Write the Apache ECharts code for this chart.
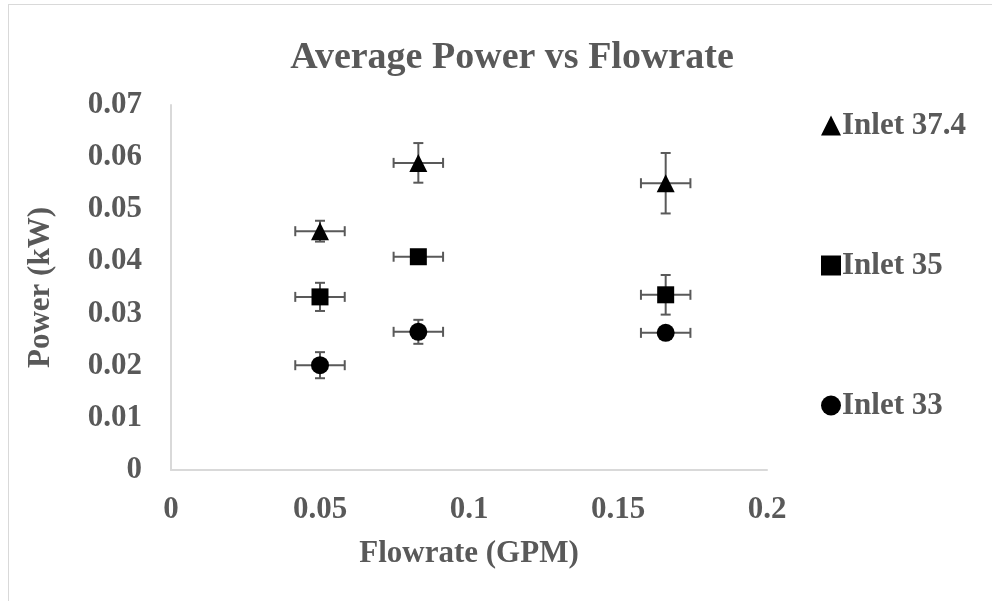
<!DOCTYPE html>
<html>
<head>
<meta charset="utf-8">
<script src="https://cdn.jsdelivr.net/npm/echarts@6/dist/echarts.min.js"></script>
<style>
  html, body { margin: 0; padding: 0; background: #fff; }
  #frame {
    position: absolute; left: 8px; top: 4px; width: 990px; height: 600px;
    border: 1px solid #d9d9d9; box-sizing: border-box;
  }
  #chart { position: absolute; left: 0; top: 0; width: 992px; height: 601px; }
</style>
</head>
<body>
<div id="frame"></div>
<div id="chart"></div>
<script>
// flowrate (GPM) and average power (kW)
const seriesNames = ['Inlet 37.4', 'Inlet 35', 'Inlet 33']
const seriesSymbols = ['triangle', 'rect', 'circle']
const flowrate = [0.05, 0.083, 0.166]
const flowErr = [0.0083, 0.0083, 0.0083]
const power374 = [0.0458, 0.0589, 0.0550]
const power35 = [0.0332, 0.0409, 0.0336]
const power33 = [0.0201, 0.0265, 0.0263]
const err374 = [0.0020, 0.0038, 0.0058]
const err35 = [0.0027, 0.0010, 0.0038]
const err33 = [0.0025, 0.0023, 0.0005]

const powers = [power374, power35, power33]
const errs = [err374, err35, err33]

const textColor = '#595959'
const font = 'Liberation Serif, Times New Roman, serif'

let myChart = echarts.init(document.getElementById('chart'))

// error bars, drawn through the axis scales
function errorSeries(i) {
  return {
    type: 'custom',
    name: seriesNames[i] + ' err',
    silent: true,
    z: 1,
    data: flowrate.map((x, k) => [x, powers[i][k], flowErr[k], errs[i][k]]),
    renderItem(params, api) {
      const x = api.value(0), y = api.value(1)
      const dx = api.value(2), dy = api.value(3)
      const l = api.coord([x - dx, y]), r = api.coord([x + dx, y])
      const t = api.coord([x, y + dy]), b = api.coord([x, y - dy])
      const cap = 5
      const style = { stroke: '#595959', lineWidth: 2 }
      const line = (x1, y1, x2, y2) => ({ type: 'line', shape: { x1, y1, x2, y2 }, style })
      return {
        type: 'group',
        children: [
          line(l[0], l[1], r[0], r[1]),
          line(l[0], l[1] - cap, l[0], l[1] + cap),
          line(r[0], r[1] - cap, r[0], r[1] + cap),
          line(t[0], t[1], b[0], b[1]),
          line(t[0] - cap, t[1], t[0] + cap, t[1]),
          line(b[0] - cap, b[1], b[0] + cap, b[1])
        ]
      }
    }
  }
}

const scatter = seriesNames.map((name, i) => ({
  type: 'scatter',
  name,
  symbol: seriesSymbols[i],
  symbolSize: i === 1 ? 17 : 18,
  z: 3,
  itemStyle: { color: '#000', opacity: 1 },
  data: flowrate.map((x, k) => [x, powers[i][k]])
}))

const labelStyle = { fontFamily: font, fontSize: 31, fontWeight: 'bold', color: textColor }

myChart.setOption({
  animation: false,
  title: {
    text: 'Average Power vs Flowrate',
    left: 507, top: 34, textAlign: 'center',
    textStyle: { fontFamily: font, fontSize: 38, fontWeight: 'bold', color: textColor }
  },
  legend: {
    data: seriesNames.map((n, i) => ({ name: n, icon: seriesSymbols[i] })),
    orient: 'vertical',
    left: 816, top: 105,
    itemWidth: 20, itemHeight: 20, itemGap: 109,
    textStyle: { ...labelStyle, padding: [0, 0, 0, -4] }
  },
  grid: { left: 171, right: 225, top: 105, bottom: 131 },
  xAxis: {
    type: 'value', min: 0, max: 0.2, interval: 0.05,
    name: 'Flowrate (GPM)', nameLocation: 'middle', nameGap: 68,
    nameTextStyle: labelStyle,
    axisLine: { show: true, lineStyle: { color: '#d9d9d9', width: 2 } },
    axisTick: { show: false },
    splitLine: { show: false },
    axisLabel: { margin: 24, ...labelStyle }
  },
  yAxis: {
    type: 'value', min: 0, max: 0.07, interval: 0.01,
    name: 'Power (kW)', nameLocation: 'middle', nameGap: 115,
    nameTextStyle: labelStyle,
    axisLine: { show: true, lineStyle: { color: '#d9d9d9', width: 2 } },
    axisTick: { show: false },
    splitLine: { show: false },
    axisLabel: { margin: 29, ...labelStyle }
  },
  series: [...seriesNames.map((n, i) => errorSeries(i)), ...scatter]
})

window.addEventListener('resize', () => {
  myChart.resize()
})
</script>
</body>
</html>
